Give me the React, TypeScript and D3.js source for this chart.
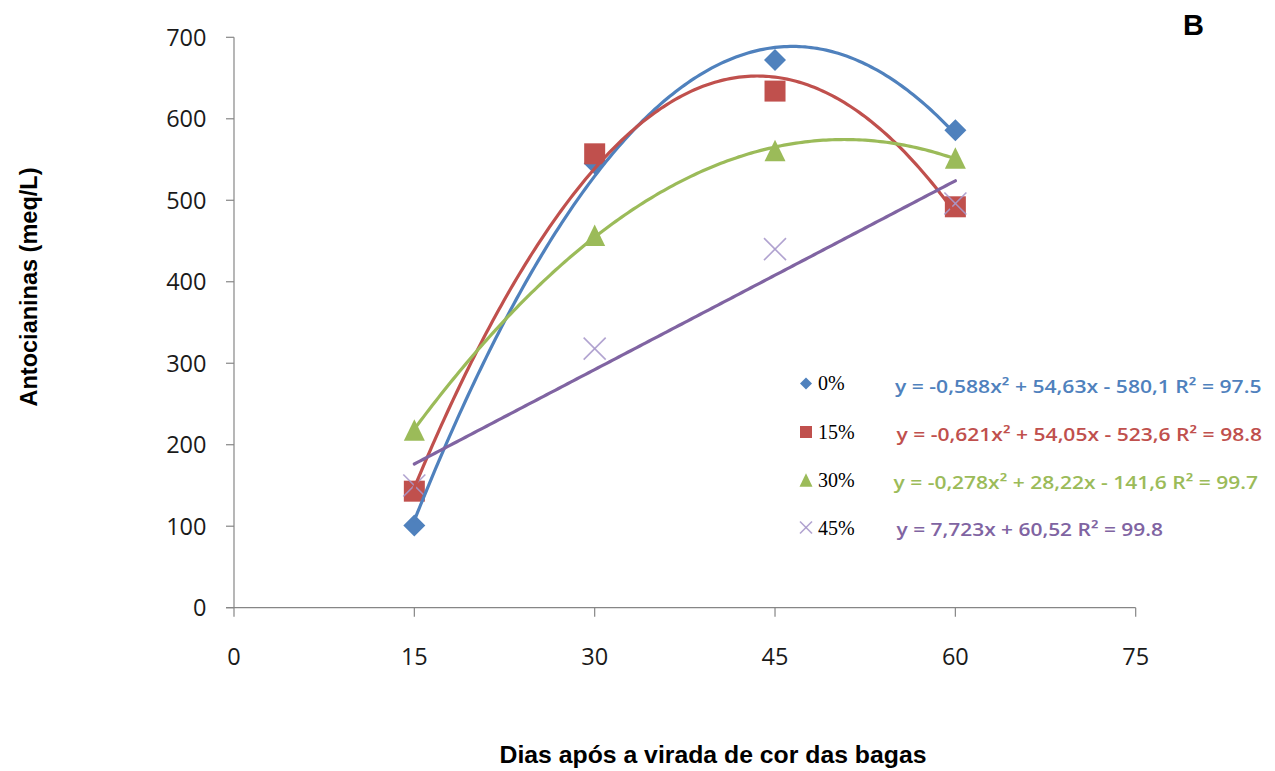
import React from 'react';
import * as d3 from 'd3';

// Anthocyanin content by days after veraison, four treatments
const days = [15, 30, 45, 60];
const series0 = [101, 545, 672, 586];
const series15 = [143, 557, 634, 492];
const series30 = [218, 457, 561, 552];
const series45 = [150, 318, 440, 496];
const seriesNames = ['0%', '15%', '30%', '45%'];
const seriesColors = ['#4F81BD', '#C0504D', '#9BBB59', '#8064A2'];
const markerKinds = ['diamond', 'square', 'triangle', 'cross'];

// Trendline coefficients [a, b, c] for y = a·x² + b·x + c
const trend0 = [-0.588, 54.63, -580.1];
const trend15 = [-0.621, 54.05, -523.6];
const trend30 = [-0.278, 28.22, -141.6];
const trend45 = [0, 7.723, 60.52];

const equations = [
  'y = -0,588x² + 54,63x - 580,1 R² = 97.5',
  'y = -0,621x² + 54,05x - 523,6 R² = 98.8',
  'y = -0,278x² + 28,22x - 141,6 R² = 99.7',
  'y = 7,723x + 60,52 R² = 99.8',
];

const xTicks = [0, 15, 30, 45, 60, 75];
const yTicks = [0, 100, 200, 300, 400, 500, 600, 700];

const W = 1275;
const H = 771;

const AXIS = '#868686';
const TICK_FONT = '"Open Sans", "DejaVu Sans", sans-serif';
const TITLE_FONT = '"Liberation Sans", Arial, sans-serif';

function Marker({ kind, cx, cy, color, s }: { kind: string; cx: number; cy: number; color: string; s: number }) {
  if (kind === 'diamond') {
    const pts = `${cx},${cy - s} ${cx + s},${cy} ${cx},${cy + s} ${cx - s},${cy}`;
    return <polygon points={pts} fill={color} />;
  }
  if (kind === 'square') {
    return <rect x={cx - s} y={cy - s} width={2 * s} height={2 * s} fill={color} />;
  }
  if (kind === 'triangle') {
    const h = s * 2.05;
    const pts = `${cx},${cy - h / 2} ${cx + s},${cy + h / 2} ${cx - s},${cy + h / 2}`;
    return <polygon points={pts} fill={color} />;
  }
  return (
    <g stroke="#A999CB" strokeWidth={1.6} strokeOpacity={0.9}>
      <line x1={cx - s} y1={cy - s} x2={cx + s} y2={cy + s} />
      <line x1={cx - s} y1={cy + s} x2={cx + s} y2={cy - s} />
    </g>
  );
}

export default function App() {
  const x = d3.scaleLinear().domain([0, 75]).range([234, 1135.7]);
  const y = d3.scaleLinear().domain([0, 700]).range([607.7, 37.3]);

  const allSeries = [series0, series15, series30, series45];
  const trends = [trend0, trend15, trend30, trend45];

  // trendlines span the observed days
  const samples = d3.range(days[0], days[days.length - 1] + 0.001, 0.25);
  const line = d3
    .line<number[]>()
    .x((d) => x(d[0]))
    .y((d) => y(d[1]));

  const trendPath = (c: number[]) =>
    line(samples.map((t) => [t, c[0] * t * t + c[1] * t + c[2]])) ?? '';

  const markerSize = [11, 10.5, 10.5, 11];
  const legendMarkerSize = [6, 6, 6.5, 6];
  const legendRows = [383.5, 432, 480, 527.5];
  const labelBase = [389.5, 438.5, 487, 535];
  const eqStart = [895, 896.5, 893.5, 896.5];
  const eqEnd = [1261.5, 1262, 1258, 1163];
  const eqBase = [393, 440.5, 488.5, 535.5];

  return (
    <svg
      width={W}
      height={H}
      viewBox={`0 0 ${W} ${H}`}
      style={{ position: 'absolute', left: 0, top: 0, background: '#fff' }}
    >
      <rect x={0} y={0} width={W} height={H} fill="#fff" />

      {/* y axis */}
      <line x1={x(0)} x2={x(0)} y1={y(700)} y2={y(0)} stroke={AXIS} strokeWidth={1.2} />
      {yTicks.map((t) => (
        <g key={`yt${t}`}>
          <line x1={x(0) - 8} x2={x(0)} y1={y(t)} y2={y(t)} stroke={AXIS} strokeWidth={1.2} />
          <text
            x={206.5}
            y={y(t) + 8.5}
            textAnchor="end"
            fontFamily={TICK_FONT}
            fontSize={23.5}
            fill="#1a1a1a"
          >
            {t}
          </text>
        </g>
      ))}

      {/* x axis */}
      <line x1={x(0) - 8} x2={x(75)} y1={y(0)} y2={y(0)} stroke={AXIS} strokeWidth={1.2} />
      {xTicks.map((t) => (
        <g key={`xt${t}`}>
          <line x1={x(t)} x2={x(t)} y1={y(0)} y2={y(0) + 9} stroke={AXIS} strokeWidth={1.2} />
          <text
            x={x(t)}
            y={665}
            textAnchor="middle"
            fontFamily={TICK_FONT}
            fontSize={23.5}
            fill="#1a1a1a"
          >
            {t}
          </text>
        </g>
      ))}

      {/* data markers */}
      {allSeries.map((vals, i) => (
        <g key={`s${i}`}>
          {vals.map((v, j) => (
            <Marker
              key={j}
              kind={markerKinds[i]}
              cx={x(days[j])}
              cy={y(v)}
              color={seriesColors[i]}
              s={markerSize[i]}
            />
          ))}
        </g>
      ))}

      {/* trendlines */}
      {trends.map((c, i) => (
        <path
          key={`tr${i}`}
          d={trendPath(c)}
          fill="none"
          stroke={seriesColors[i]}
          strokeWidth={3.2}
          strokeLinejoin="round"
          strokeLinecap="round"
        />
      ))}

      {/* legend */}
      {seriesNames.map((name, i) => (
        <g key={`lg${i}`}>
          <Marker
            kind={markerKinds[i]}
            cx={806}
            cy={legendRows[i]}
            color={seriesColors[i]}
            s={legendMarkerSize[i]}
          />
          <text
            x={818}
            y={labelBase[i]}
            fontFamily='"Liberation Serif", "Times New Roman", serif'
            fontSize={20}
            fill="#000"
          >
            {name}
          </text>
          <text
            x={eqStart[i]}
            y={eqBase[i]}
            fontFamily='"Open Sans", "DejaVu Sans", sans-serif'
            fontWeight={600}
            fontSize={18}
            fill={seriesColors[i]}
            textLength={eqEnd[i] - eqStart[i]}
            lengthAdjust="spacingAndGlyphs"
          >
            {equations[i]}
          </text>
        </g>
      ))}

      {/* axis titles */}
      <text
        transform="translate(37,287) rotate(-90)"
        textAnchor="middle"
        fontFamily={TITLE_FONT}
        fontWeight={700}
        fontSize={23.5}
        fill="#000"
      >
        Antocianinas (meq/L)
      </text>
      <text
        x={713}
        y={763}
        textAnchor="middle"
        fontFamily={TITLE_FONT}
        fontWeight={700}
        fontSize={24}
        fill="#000"
        textLength={427}
        lengthAdjust="spacingAndGlyphs"
      >
        Dias após a virada de cor das bagas
      </text>
      <text
        x={1183}
        y={35}
        fontFamily={TITLE_FONT}
        fontWeight={700}
        fontSize={29}
        fill="#000"
      >
        B
      </text>
    </svg>
  );
}
